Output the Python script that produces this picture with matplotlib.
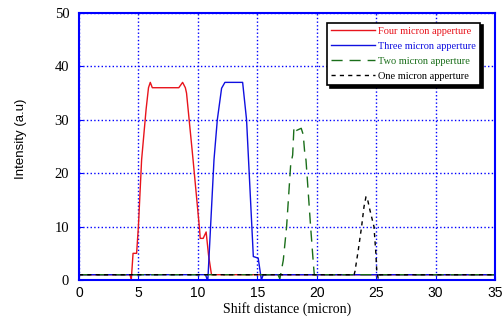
import numpy as np
import matplotlib.pyplot as plt

# four micron apperture
x4 = [0, 4.3, 4.4, 4.55, 4.85, 5.0, 5.27, 5.65, 5.85, 6.0, 6.17, 8.4, 8.72, 8.95, 9.05,
      9.6, 10.15, 10.2, 10.45, 10.7, 10.9, 11.15, 35]
y4 = [1, 1, 0, 5, 5, 10, 22.5, 32, 36, 37, 36, 36, 37, 36, 35,
      22.5, 9.4, 7.8, 7.8, 9, 4.7, 1, 1]

# three micron apperture
x3 = [0, 10.65, 10.8, 10.85, 11.36, 11.64, 12.0, 12.28, 13.77, 14.1, 14.67, 15.08, 15.35, 15.5, 35]
y3 = [1, 1, 0, 0.3, 22.5, 30, 35.9, 37, 37, 30, 4.4, 4.1, 0, 1, 1]

# two micron apperture
x2 = [0, 16.75, 16.9, 17.19, 17.47, 17.81, 17.98, 18.09, 18.3, 18.5, 18.7, 18.87, 19.01,
      19.1, 19.49, 19.72, 19.8, 35]
y2 = [1, 1, 0.2, 3.7, 10, 21.5, 23.4, 28.7, 28.0, 28.2, 28.4, 27.2, 23.4,
      22.5, 10, 3.1, 1, 1]

# one micron apperture
x1 = [0, 23.15, 23.22, 23.5, 23.78, 23.98, 24.15, 24.26, 24.48, 24.82, 24.98, 25.05, 25.18, 25.3, 35]
y1 = [1, 1, 1.6, 5.6, 10, 13.7, 15.6, 15.3, 13.1, 10, 5, 1.9, 0.2, 1, 1]

xticks = np.arange(0, 36, 5)
yticks = np.arange(0, 51, 10)

fig = plt.figure(figsize=(5.03, 3.23), dpi=100)
ax = fig.add_axes([0.157, 0.133, 0.827, 0.827])

ax.plot(x4, y4, color='#e8141c', lw=1.0, label='Four micron apperture')
ax.plot(x3, y3, color='#1010e0', lw=1.0, label='Three micron apperture')
ax.plot(x2, y2, color='#1a6e1a', lw=1.0, ls=(0, (8, 5)), label='Two micron apperture')
ax.plot(x1, y1, color='black', lw=1.0, ls=(0, (3, 3)), label='One micron apperture')

ax.set_xlim(0, 35)
ax.set_ylim(0, 50)
ax.set_xticks(xticks)
ax.set_yticks(yticks)
ax.grid(True, color='#0000ff', ls=':', lw=1.0)
for s in ax.spines.values():
    s.set_color('#0000ff')
    s.set_linewidth(1.5)
ax.tick_params(direction='in', color='#0000ff', length=3)
ax.tick_params(axis='x', labelsize=10, pad=4)
ax.tick_params(axis='y', labelsize=10.5, pad=7)
for lab in ax.get_xticklabels():
    lab.set_family('Liberation Sans')
for lab in ax.get_yticklabels():
    lab.set_family('Liberation Serif')

ax.set_xlabel('Shift distance (micron)', family='Liberation Serif', fontsize=10, labelpad=2)
ax.set_ylabel('Intensity (a.u)', family='Liberation Sans', fontsize=9.5)
ax.yaxis.set_label_coords(-0.125, 0.53)

leg = ax.legend(loc='upper right', bbox_to_anchor=(0.964, 0.964), borderaxespad=0,
                prop={'family': 'Liberation Serif', 'size': 7.5}, labelcolor='linecolor',
                fancybox=False, framealpha=1, edgecolor='black', handlelength=4.2,
                handletextpad=0.3, labelspacing=0.55, shadow={'color': 'black', 'alpha': 1})
leg.get_frame().set_linewidth(1.2)

fig.savefig('out.png', dpi=100)
